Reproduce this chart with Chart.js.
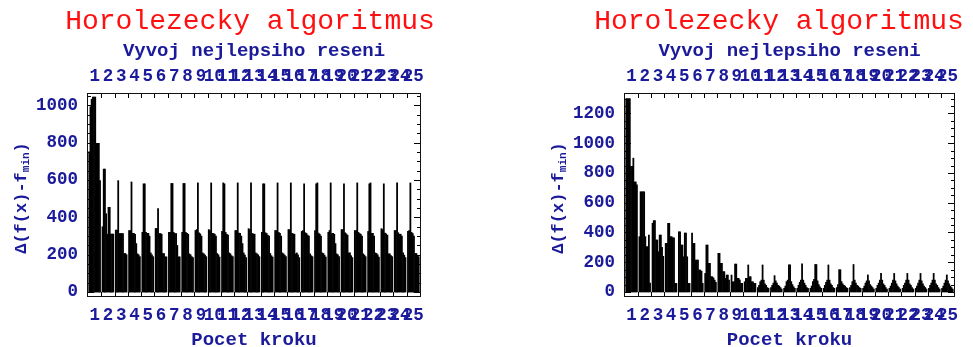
<!DOCTYPE html>
<html>
<head>
<meta charset="utf-8">
<script src="https://cdn.jsdelivr.net/npm/chart.js@4.4.1/dist/chart.umd.min.js"></script>
<style>
  html, body { margin: 0; padding: 0; background: #fff; }
  #wrap { position: relative; width: 973px; height: 347px; overflow: hidden; background: #fff; }
  canvas { position: absolute; top: 0; }
  #left { left: 0; }
  #right { left: 487px; }
</style>
</head>
<body>
<div id="wrap">
  <canvas id="left" width="487" height="347"></canvas>
  <canvas id="right" width="486" height="347"></canvas>
</div>
<script>
const steps = ["1","2","3","4","5","6","7","8","9","10","11","12","13","14","15","16","17","18","19","20","21","22","23","24","25"];
const yTicksLeft = [0, 200, 400, 600, 800, 1000];
const yTicksRight = [0, 200, 400, 600, 800, 1000, 1200];
const yRangeLeft = [-21, 1061];
const yRangeRight = [-27, 1331];

// left panel: best value of each run per step
const leftRun1 = [752, 350, 332, 330, 320, 341, 320, 320, 330, 335, 325, 330, 340, 320, 330, 335, 325, 330, 320, 335, 330, 325, 340, 330, 325];
const leftRun2 = [993, 659, 332, 330, 580, 341, 320, 582, 335, 330, 585, 330, 335, 580, 330, 335, 330, 580, 330, 335, 330, 580, 335, 330, 330];
const leftRun3 = [1033, 659, 597, 590, 580, 448, 582, 582, 585, 585, 580, 585, 585, 580, 585, 585, 580, 585, 585, 580, 585, 585, 580, 585, 585];
const leftRun4 = [1045, 420, 314, 315, 320, 314, 582, 320, 318, 315, 320, 316, 314, 318, 320, 315, 318, 316, 314, 318, 320, 315, 316, 318, 320];
const leftRun5 = [1045, 310, 314, 315, 315, 314, 320, 315, 312, 314, 310, 315, 312, 314, 315, 312, 314, 310, 315, 312, 314, 315, 312, 310, 314];
const leftRun6 = [1045, 454, 314, 310, 315, 310, 314, 310, 300, 310, 305, 300, 310, 305, 300, 310, 305, 300, 310, 305, 310, 300, 305, 310, 300];
const leftRun7 = [797, 454, 314, 260, 300, 207, 314, 205, 210, 300, 210, 260, 210, 300, 210, 205, 300, 210, 260, 210, 300, 210, 205, 300, 207];
const leftRun8 = [797, 311, 207, 205, 210, 207, 250, 200, 205, 207, 205, 210, 205, 207, 205, 210, 205, 207, 205, 210, 205, 207, 205, 210, 207];
const leftRun9 = [797, 311, 207, 200, 200, 189, 189, 190, 198, 200, 195, 198, 200, 195, 198, 200, 195, 198, 200, 195, 198, 200, 195, 198, 198];
const leftRun10 = [597, 311, 200, 190, 190, 189, 189, 185, 190, 188, 190, 185, 190, 188, 190, 185, 190, 188, 190, 185, 190, 188, 190, 185, 190];

// right panel
const rightRun1 = [1300, 372, 462, 327, 405, 397, 125, 260, 114, 69, 30, 30, 25, 25, 25, 25, 30, 30, 25, 25, 25, 25, 25, 25, 25];
const rightRun2 = [1300, 674, 480, 327, 405, 327, 316, 260, 69, 92, 45, 45, 40, 45, 40, 45, 50, 45, 40, 45, 40, 45, 40, 45, 40];
const rightRun3 = [1300, 674, 480, 462, 316, 327, 316, 193, 69, 92, 69, 60, 70, 65, 70, 65, 150, 70, 60, 60, 60, 60, 60, 60, 60];
const rightRun4 = [1300, 674, 350, 462, 316, 215, 193, 193, 188, 182, 80, 110, 80, 80, 85, 80, 150, 185, 75, 80, 80, 80, 80, 80, 80];
const rightRun5 = [845, 674, 350, 372, 237, 215, 193, 137, 188, 103, 182, 75, 182, 190, 185, 182, 70, 80, 115, 125, 125, 125, 125, 125, 115];
const rightRun6 = [845, 372, 271, 372, 397, 215, 103, 137, 92, 103, 80, 60, 182, 80, 185, 80, 55, 60, 75, 80, 75, 80, 75, 80, 75];
const rightRun7 = [900, 305, 383, 365, 397, 148, 103, 92, 92, 69, 55, 45, 70, 60, 75, 55, 45, 45, 50, 55, 55, 55, 55, 55, 55];
const rightRun8 = [740, 305, 383, 365, 237, 148, 95, 114, 81, 69, 45, 40, 50, 45, 50, 45, 40, 40, 40, 45, 40, 45, 40, 45, 40];
const rightRun9 = [740, 383, 300, 58, 58, 140, 80, 114, 58, 58, 30, 30, 35, 30, 35, 30, 30, 30, 30, 30, 30, 30, 30, 30, 30];
const rightRun10 = [720, 60, 240, 58, 58, 58, 65, 81, 58, 58, 25, 20, 25, 25, 25, 25, 25, 25, 20, 20, 20, 20, 20, 20, 20];

const leftRuns = [leftRun1, leftRun2, leftRun3, leftRun4, leftRun5, leftRun6, leftRun7, leftRun8, leftRun9, leftRun10];
const rightRuns = [rightRun1, rightRun2, rightRun3, rightRun4, rightRun5, rightRun6, rightRun7, rightRun8, rightRun9, rightRun10];

const navy = "#1a1a9a";
const mono = "'Liberation Mono', 'DejaVu Sans Mono', monospace";

// frame with inward ticks, Mathematica style
const frameTicks = {
  id: "frameTicks",
  afterDatasetsDraw(chart) {
    const { ctx, chartArea: a, scales } = chart;
    const y = scales.y, x = scales.x;
    const top = chart.options.plugins.frameTicks.top;
    ctx.save();
    ctx.strokeStyle = "#000";
    ctx.lineWidth = 1;
    ctx.beginPath();
    for (let v = 0; v <= top; v += 50) {
      const py = Math.round(y.getPixelForValue(v)) + 0.5;
      const len = v % 200 === 0 ? 6 : 3;
      ctx.moveTo(a.left, py); ctx.lineTo(a.left + len, py);
      ctx.moveTo(a.right, py); ctx.lineTo(a.right - len, py);
    }
    const half = (x.getPixelForValue(1) - x.getPixelForValue(0)) / 2;
    for (let i = 0; i < steps.length - 1; i++) {
      const px = Math.round(x.getPixelForValue(i) + half) + 0.5;
      ctx.moveTo(px, a.top); ctx.lineTo(px, a.top + 4);
      ctx.moveTo(px, a.bottom); ctx.lineTo(px, a.bottom - 4);
    }
    ctx.stroke();
    ctx.strokeStyle = "#111";
    ctx.strokeRect(a.left - 0.5, a.top - 0.5, a.right - a.left + 1, a.bottom - a.top + 1);
    ctx.restore();
  },
};

// main title and rotated y title with subscript
const labels = {
  id: "labels",
  afterDraw(chart) {
    const { ctx, chartArea: a } = chart;
    const titleX = chart.options.plugins.labels.titleX;
    ctx.save();
    ctx.fillStyle = "#ff1010";
    ctx.font = "28px " + mono;
    ctx.textAlign = "center";
    ctx.textBaseline = "middle";
    ctx.fillText("Horolezecky algoritmus", titleX, 22);

    const cx = a.left - 67, cy = (a.top + a.bottom) / 2 + 3;
    const big = "bold 17px " + mono, small = "bold 11px " + mono;
    ctx.font = big;
    const w1 = ctx.measureText("\u0394(f(x)-f").width;
    const w3 = ctx.measureText(")").width;
    ctx.font = small;
    const w2 = ctx.measureText("min").width;
    ctx.translate(cx, cy);
    ctx.rotate(-Math.PI / 2);
    ctx.fillStyle = navy;
    ctx.textAlign = "left";
    ctx.textBaseline = "alphabetic";
    let start = -(w1 + w2 + w3) / 2;
    ctx.font = big;
    ctx.fillText("\u0394(f(x)-f", start, 5);
    ctx.font = small;
    ctx.fillText("min", start + w1, 8);
    ctx.font = big;
    ctx.fillText(")", start + w1 + w2, 5);
    ctx.restore();
  },
};

function makePanel(id, runs, yTicks, yRange, padLeft, padRight, titleX) {
  const tickFont = { family: mono, size: 17.5, weight: "bold" };
  const titleFont = { family: mono, size: 19, weight: "bold", lineHeight: 1 };
  return new Chart(document.getElementById(id), {
    type: "bar",
    data: {
      labels: steps,
      datasets: runs.map((r) => ({
        data: r,
        backgroundColor: "#000",
        borderWidth: 0,
        barPercentage: 1,
        categoryPercentage: 0.9,
        inflateAmount: 0.3,
      })),
    },
    options: {
      responsive: false,
      animation: false,
      devicePixelRatio: 1,
      layout: { padding: { top: 38, left: padLeft, right: padRight, bottom: 0 } },
      plugins: {
        legend: { display: false },
        tooltip: { enabled: false },
        title: { display: false },
        frameTicks: { top: yRange[1] },
        labels: { titleX },
      },
      scales: {
        x: {
          position: "bottom",
          grid: { display: false },
          border: { display: false },
          ticks: { autoSkip: false, maxRotation: 0, minRotation: 0, color: navy, font: tickFont, padding: 1 },
          title: { display: true, text: "Pocet kroku", color: navy, font: titleFont, padding: { top: 0, bottom: -3 } },
          afterFit(s) { s.height = 51; },
        },
        x2: {
          type: "category",
          position: "top",
          labels: steps,
          offset: true,
          grid: { display: false },
          border: { display: false },
          ticks: { autoSkip: false, maxRotation: 0, minRotation: 0, color: navy, font: tickFont, padding: -1 },
          title: { display: true, text: "Vyvoj nejlepsiho reseni", color: navy, font: titleFont, padding: { top: 3.5, bottom: 0 } },
          afterFit(s) { s.height = 56; },
        },
        y: {
          min: yRange[0],
          max: yRange[1],
          grid: { display: false },
          border: { display: false },
          ticks: { color: navy, font: tickFont, padding: 2, callback: (v) => String(v) },
          afterBuildTicks(s) { s.ticks = yTicks.map((v) => ({ value: v })); },
          afterFit(s) { s.width = 88; },
        },
      },
    },
    plugins: [frameTicks, labels],
  });
}

makePanel("left", leftRuns, yTicksLeft, yRangeLeft, 0, 67, 250);
makePanel("right", rightRuns, yTicksRight, yRangeRight, 50, 19, 292);
</script>
</body>
</html>
